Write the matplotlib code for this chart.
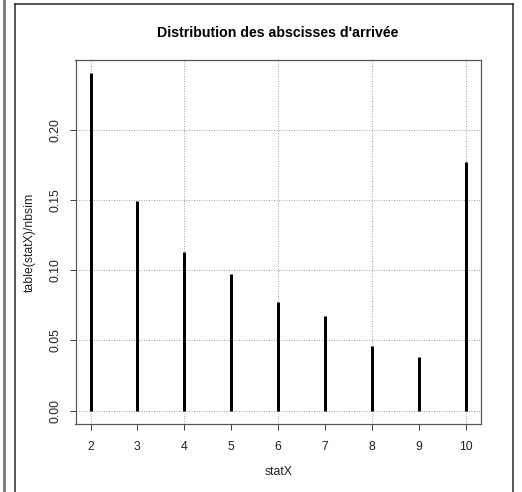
import matplotlib
matplotlib.use("Agg")
import matplotlib.pyplot as plt
from matplotlib.lines import Line2D
from matplotlib.patches import Rectangle

plt.rcParams['font.family'] = ['Liberation Sans', 'DejaVu Sans']

# Data
stat_x = [2, 3, 4, 5, 6, 7, 8, 9, 10]
freq = [0.240, 0.149, 0.113, 0.097, 0.077, 0.067, 0.046, 0.038, 0.177]
y_ticks = [0.00, 0.05, 0.10, 0.15, 0.20]
y_tick_labels = ["0.00", "0.05", "0.10", "0.15", "0.20"]
grid_x = [2, 4, 6, 8, 10]
title = "Distribution des abscisses d'arrivée"
xlabel = "statX"
ylabel = "table(statX)/nbsim"

W, H = 522, 492
dpi = 100
fig = plt.figure(figsize=(W / dpi, H / dpi), dpi=dpi)
fig.patch.set_facecolor("white")

def px(v):
    return v * 72.0 / dpi

left, right, top, bottom = 75.5, 480.7, 60, 424
ax = fig.add_axes([left / W, 1 - bottom / H, (right - left) / W, (bottom - top) / H])

ymax = max(freq)
xmin, xmax = min(stat_x), max(stat_x)
dx = (xmax - xmin) * 0.04
ax.set_xlim(xmin - dx, xmax + dx)
ax.set_ylim(-0.04 * ymax, ymax * 1.04)

# grid
for gx in grid_x:
    ax.axvline(gx, color="#a8a8a8", lw=px(1), linestyle=(0, (1, 1.5)), zorder=1)
for gy in y_ticks:
    ax.axhline(gy, color="#a8a8a8", lw=px(1), linestyle=(0, (1, 1.5)), zorder=1)

ax.vlines(stat_x, 0, freq, colors="black", lw=px(3), zorder=2)

ax.set_xticks(stat_x)
ax.set_xticklabels([str(v) for v in stat_x])
ax.set_yticks(y_ticks)
ax.set_yticklabels(y_tick_labels, rotation=90, va="center")
ax.tick_params(direction="out", length=px(6), width=px(1), color="#444444",
               labelsize=8.8, labelcolor="#222222", pad=px(8))
ax.tick_params(axis="x", pad=px(11))
for s in ax.spines.values():
    s.set_color("#555555")
    s.set_linewidth(px(1.2))

fig.text(left / W + (right - left) / W / 2, 1 - 472 / H, xlabel, ha="center", va="center",
         fontsize=8.8, color="#222222")
fig.text(30 / W, 1 - 242 / H, ylabel, ha="center", va="center", rotation=90,
         fontsize=8.8, color="#222222")
fig.text(278 / W, 1 - 33 / H, title, ha="center", va="center", fontsize=10.2,
         fontweight="bold", color="black")

# outer frame
fig.add_artist(Rectangle((3 / W, 0), 2.5 / W, 1, transform=fig.transFigure,
                         color="#808080", lw=0))
fig.add_artist(Line2D([15 / W, 15 / W], [0, 1 - 4 / H], transform=fig.transFigure,
                      color="#222222", lw=px(1.5)))
fig.add_artist(Line2D([513 / W, 513 / W], [0, 1 - 4 / H], transform=fig.transFigure,
                      color="#222222", lw=px(1.5)))
fig.add_artist(Line2D([15 / W, 513 / W], [1 - 4 / H, 1 - 4 / H], transform=fig.transFigure,
                      color="#222222", lw=px(1.5)))

fig.savefig("out.png", dpi=dpi, facecolor="white")
